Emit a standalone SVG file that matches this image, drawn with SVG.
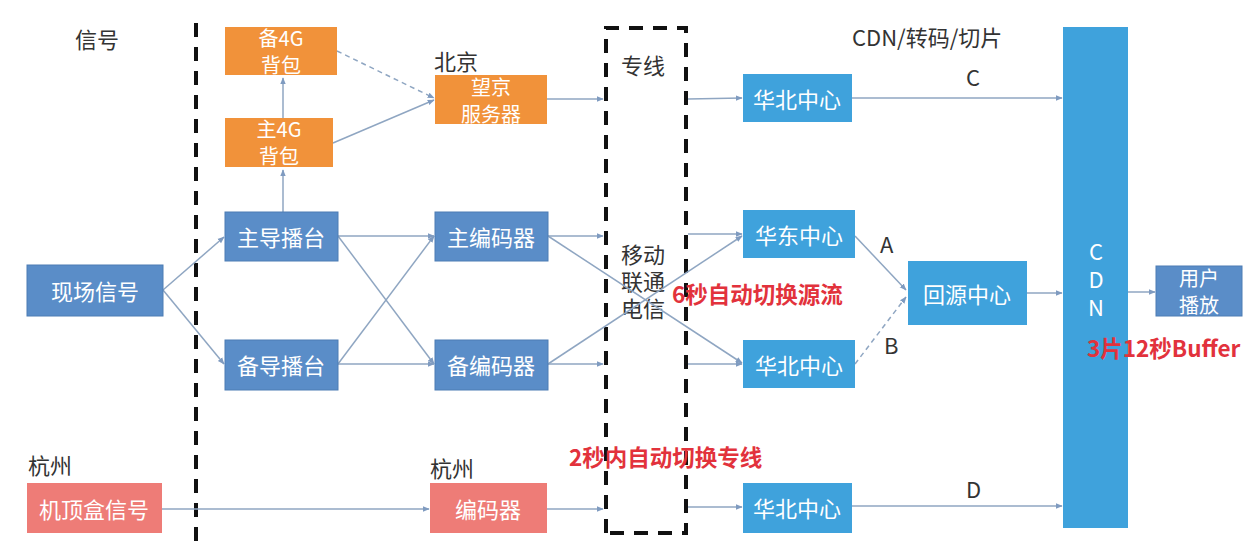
<svg xmlns="http://www.w3.org/2000/svg" width="1256" height="546" viewBox="0 0 1256 546">
<defs>
<marker id="ah" viewBox="0 0 10 10" refX="9" refY="5" markerWidth="7" markerHeight="7" orient="auto" markerUnits="userSpaceOnUse">
<path d="M0,1 L10,5 L0,9 Z" fill="#7F9BC0"/>
</marker>
<style>
text{font-family:"Noto Sans CJK SC","Noto Sans",sans-serif;}
.nt{fill:#fff;font-size:22px;text-anchor:middle;dominant-baseline:central;}
.n2{font-size:20px;}
.lb{fill:#333;font-size:22px;}
.rd{fill:#E2323C;font-size:22.5px;font-weight:bold;}
.steel{fill:#5A8DC8;stroke:#4C7CB4;stroke-width:1;}
.sky{fill:#3FA2DC;}
.org{fill:#F1923A;}
.pink{fill:#EE7C77;}
.cn{fill:none;stroke:#8FA6C2;stroke-width:1.5;marker-end:url(#ah);}
.dsh{stroke-dasharray:5 4;}
.sep{fill:none;stroke:#111;stroke-width:4;stroke-dasharray:14 10;}
</style>
</defs>
<rect width="1256" height="546" fill="#fff"/>

<g id="labels">
<text class="lb" x="75" y="48" font-size="23">信号</text>
<text class="lb" x="434" y="70">北京</text>
<text class="lb" x="852" y="46" font-size="23">CDN/转码/切片</text>
<text class="lb" x="28" y="474">杭州</text>
<text class="lb" x="430" y="477">杭州</text>
<text class="lb" x="621" y="74">专线</text>
<text class="lb" x="621" y="263">移动<tspan x="621" dy="27">联通</tspan><tspan x="621" dy="27">电信</tspan></text>
<text class="lb" x="966" y="86">C</text>
<text class="lb" x="880" y="253">A</text>
<text class="lb" x="884" y="354">B</text>
<text class="lb" x="966" y="498">D</text>
</g>

<g id="separators">
<line class="sep" x1="196" y1="23" x2="196" y2="546"/>
<path class="sep" d="M606,533 L606,28 L686,28 L686,533 Z" stroke-width="3.5"/>
</g>

<g id="connectors">
<line class="cn" x1="283" y1="118" x2="283" y2="78"/>
<line class="cn" x1="283" y1="212" x2="283" y2="170"/>
<line class="cn dsh" x1="337" y1="51" x2="434" y2="98"/>
<line class="cn" x1="333" y1="143" x2="434" y2="100"/>
<line class="cn" x1="547" y1="99" x2="603" y2="99"/>
<line class="cn" x1="688" y1="99" x2="742" y2="98"/>
<line class="cn" x1="852" y1="98" x2="1062" y2="98"/>
<line class="cn" x1="163" y1="290" x2="224" y2="237"/>
<line class="cn" x1="163" y1="290" x2="224" y2="364"/>
<line class="cn" x1="338" y1="236" x2="434" y2="236"/>
<line class="cn" x1="338" y1="236" x2="434" y2="364"/>
<line class="cn" x1="338" y1="364" x2="434" y2="236"/>
<line class="cn" x1="338" y1="364" x2="434" y2="364"/>
<line class="cn" x1="548" y1="236" x2="603" y2="236"/>
<line class="cn" x1="548" y1="364" x2="603" y2="364"/>
<line class="cn" x1="548" y1="236" x2="742" y2="363"/>
<line class="cn" x1="548" y1="364" x2="742" y2="236"/>
<line class="cn" x1="688" y1="234" x2="742" y2="234"/>
<line class="cn" x1="688" y1="364" x2="742" y2="364"/>
<line class="cn" x1="855" y1="236" x2="906" y2="290"/>
<line class="cn dsh" x1="855" y1="364" x2="906" y2="297"/>
<line class="cn" x1="1027" y1="293" x2="1062" y2="293"/>
<line class="cn" x1="1128" y1="292" x2="1155" y2="292"/>
<line class="cn" x1="162" y1="509" x2="429" y2="509"/>
<line class="cn" x1="547" y1="509" x2="603" y2="509"/>
<line class="cn" x1="688" y1="507" x2="742" y2="507"/>
<line class="cn" x1="852" y1="506" x2="1062" y2="506"/>
</g>

<g id="n-bei4g"><rect class="org" x="225" y="27" width="112" height="48"/><text class="nt n2" x="281" y="37">备4G<tspan x="281" dy="27">背包</tspan></text></g>
<g id="n-zhu4g"><rect class="org" x="225" y="118" width="108" height="49"/><text class="nt n2" x="279" y="128">主4G<tspan x="279" dy="27">背包</tspan></text></g>
<g id="n-wangjing"><rect class="org" x="435" y="75" width="112" height="49"/><text class="nt n2" x="491" y="86">望京<tspan x="491" dy="27">服务器</tspan></text></g>
<g id="n-xianchang"><rect class="steel" x="27" y="265" width="136" height="51"/><text class="nt" x="95" y="290">现场信号</text></g>
<g id="n-zhudao"><rect class="steel" x="225" y="212" width="113" height="49"/><text class="nt" x="281" y="236">主导播台</text></g>
<g id="n-beidao"><rect class="steel" x="225" y="340" width="113" height="50"/><text class="nt" x="281" y="364">备导播台</text></g>
<g id="n-zhubian"><rect class="steel" x="435" y="212" width="113" height="49"/><text class="nt" x="491" y="236">主编码器</text></g>
<g id="n-beibian"><rect class="steel" x="435" y="340" width="113" height="50"/><text class="nt" x="491" y="364">备编码器</text></g>
<g id="n-huabei1"><rect class="sky" x="743" y="74" width="109" height="48"/><text class="nt" x="797" y="98">华北中心</text></g>
<g id="n-huadong"><rect class="sky" x="743" y="210" width="112" height="48"/><text class="nt" x="799" y="234">华东中心</text></g>
<g id="n-huabei2"><rect class="sky" x="743" y="340" width="112" height="48"/><text class="nt" x="799" y="364">华北中心</text></g>
<g id="n-huiyuan"><rect class="sky" x="908" y="261" width="119" height="64"/><text class="nt" x="967" y="293">回源中心</text></g>
<g id="n-cdn"><rect class="sky" x="1063" y="27" width="65" height="501"/><text class="nt" x="1096" y="250">C<tspan x="1096" dy="28">D</tspan><tspan x="1096" dy="28">N</tspan></text></g>
<g id="n-user"><rect class="steel" x="1156" y="266" width="86" height="50"/><text class="nt n2" x="1199" y="277">用户<tspan x="1199" dy="27">播放</tspan></text></g>
<g id="n-jiding"><rect class="pink" x="27" y="483" width="135" height="50"/><text class="nt" x="94" y="508">机顶盒信号</text></g>
<g id="n-bianma"><rect class="pink" x="430" y="483" width="117" height="50"/><text class="nt" x="488" y="508">编码器</text></g>
<g id="n-huabei3"><rect class="sky" x="743" y="483" width="109" height="50"/><text class="nt" x="797" y="507">华北中心</text></g>

<g id="notes">
<text class="rd" x="672" y="303">6秒自动切换源流</text>
<text class="rd" x="569" y="466">2秒内自动切换专线</text>
<text class="rd" x="1087" y="357">3片12秒Buffer</text>
</g>
</svg>
